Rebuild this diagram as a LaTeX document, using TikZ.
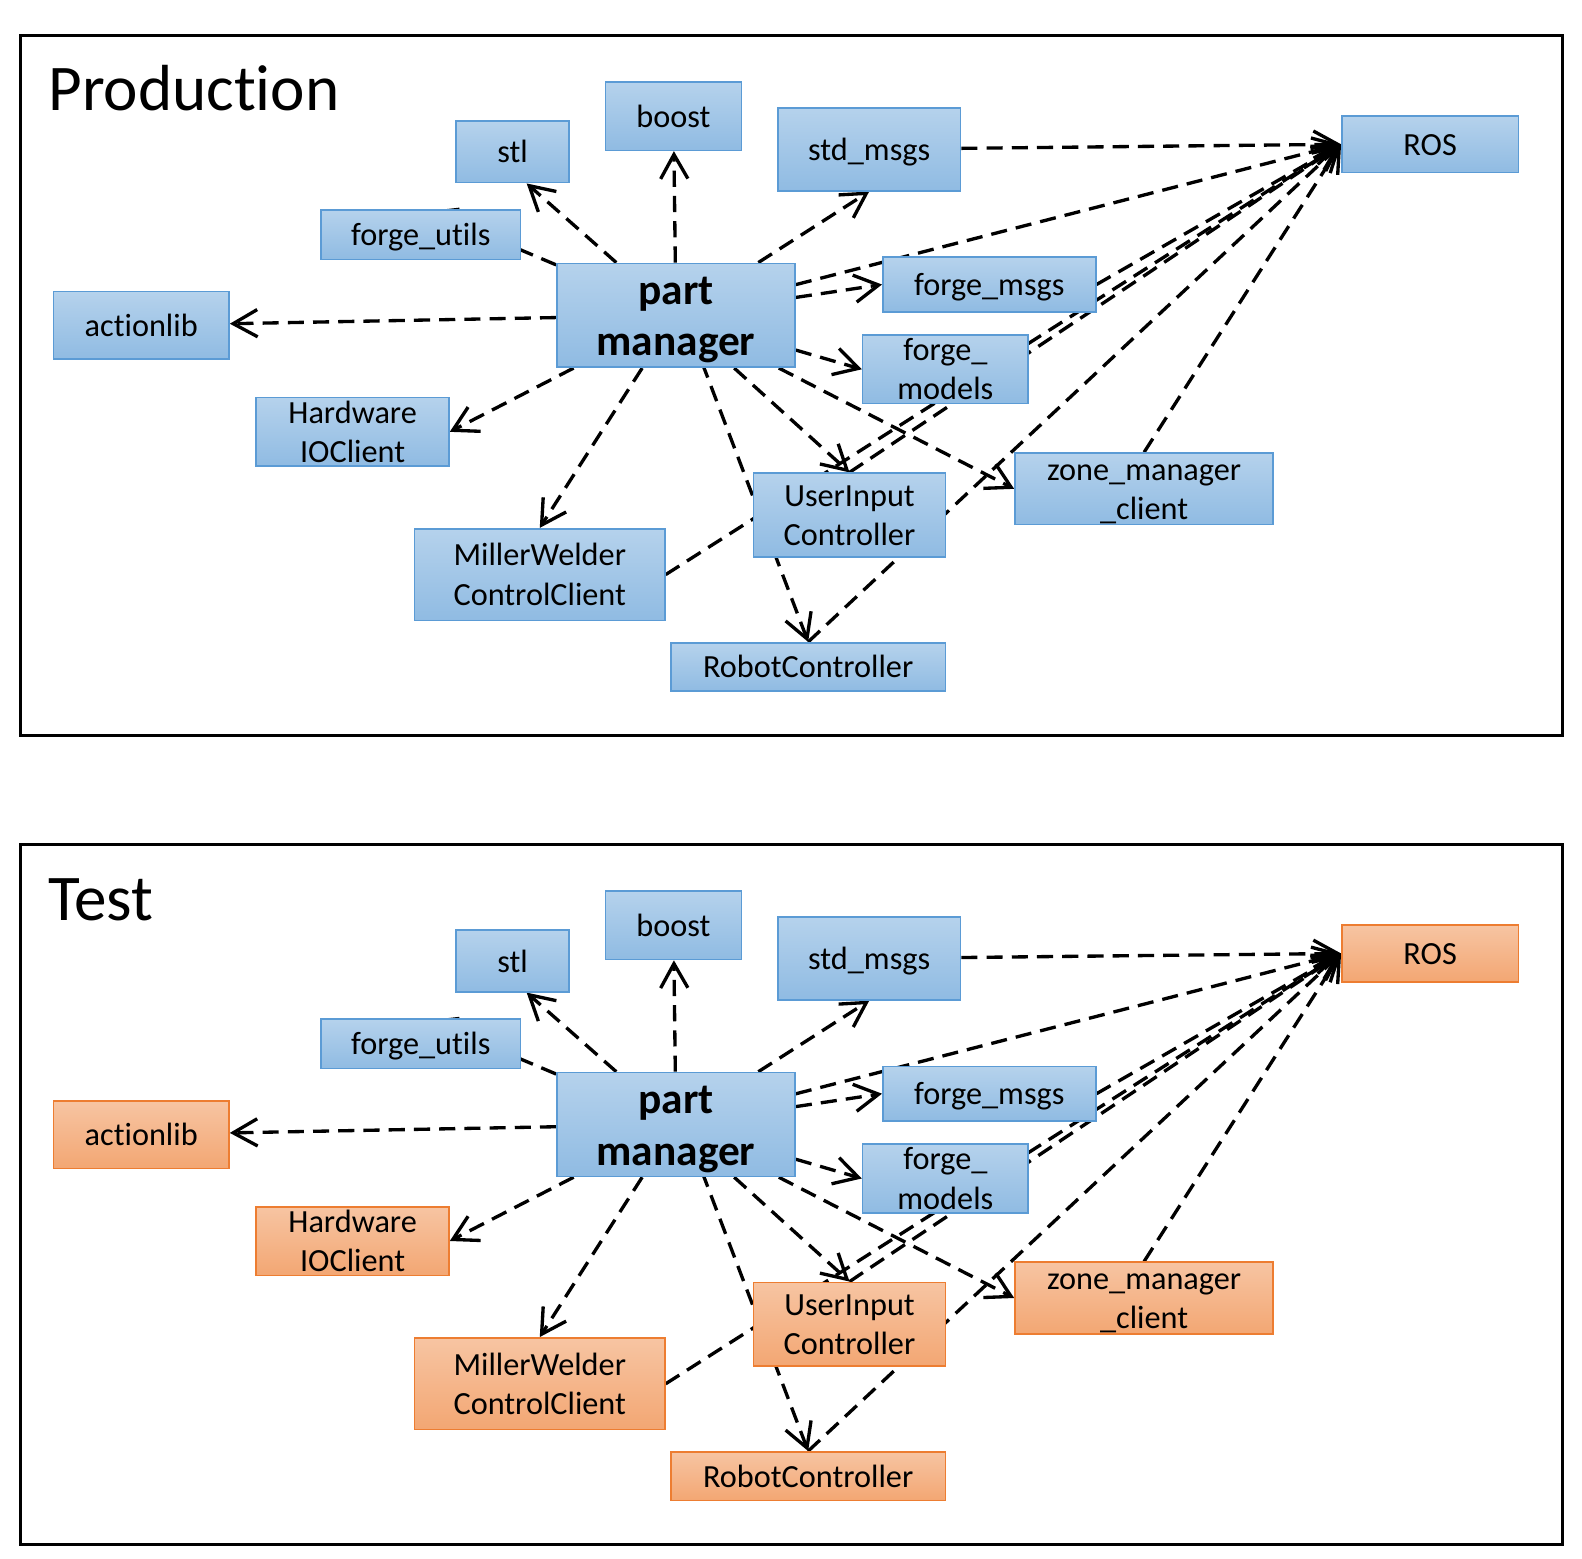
\documentclass[tikz,border=0pt]{standalone}
\usepackage{fontspec}
\setmainfont{Carlito}[Ligatures=CommonOff]
\usetikzlibrary{arrows.meta, backgrounds}
\definecolor{BLUE}{HTML}{5B9BD5}
\definecolor{ORANGE}{HTML}{ED7D31}
\newcommand*{\pkgfont}{\fontsize{16}{19.5}\selectfont\lineskiplimit=-10pt}
\newcommand*{\titlefont}{\fontsize{32.3}{38}\selectfont}
\newcommand*{\pmfont}{\fontsize{21.5}{25.5}\selectfont\bfseries\lineskiplimit=-10pt}
\newcommand*{\linestrut}{\rule[-0.269em]{0pt}{1.221em}}

\tikzset{
    pkg/.style={draw=#1, line width=0.8pt, top color=#1!45!white, bottom color=#1!68!white,
        inner xsep=0pt, inner ysep=-5pt, align=center, font=\pkgfont,
        execute at begin node=\linestrut, execute at end node=\linestrut},
    dep/.style={black, line width=1.65pt, dash pattern=on 8pt off 4.5pt,
        -{Straight Barb[length=12pt, width=13.5pt]}},
    frame/.style={black, line width=1.5pt},
}

\begin{document}
\begin{tikzpicture}[x=0.5pt, y=-0.5pt]
    \useasboundingbox (0,0) rectangle (1568,1544.4);
    \foreach \p/\dy/\ttl/\mk in {P/0/Production/BLUE, T/802/Test/ORANGE}{
    \begin{scope}[shift={(0,\dy)}]
        % Frame and title
        \draw[frame] (20,35) rectangle (1549,729);
        \node[anchor=base west, inner sep=0pt, font=\titlefont] (\p-title) at (47.5,110) {\ttl};
        % Packages
        \node[pkg=BLUE, minimum width=67.5pt, minimum height=34pt] (\p-boost) at (667.5,115) {boost};
        \node[pkg=BLUE, minimum width=56pt, minimum height=30.5pt] (\p-stl) at (508,150.5) {stl};
        \node[pkg=BLUE, minimum width=90.5pt, minimum height=41pt] (\p-stdmsgs) at (861.5,148) {std\_msgs};
        \node[pkg=\mk, minimum width=87.5pt, minimum height=28pt] (\p-ros) at (1417.5,143) {ROS};
        \node[pkg=BLUE, minimum width=99pt, minimum height=24.5pt] (\p-futils) at (417,232.5) {forge\_utils};
        \node[pkg=BLUE, minimum width=118pt, minimum height=51.5pt, font=\pmfont] (\p-pm) at (670,312.5) {\linestrut part\\manager};
        \node[pkg=\mk, minimum width=87pt, minimum height=33.5pt] (\p-alib) at (140,322.5) {actionlib};
        \node[pkg=BLUE, minimum width=105.5pt, minimum height=27pt] (\p-fmsgs) at (980.5,282) {forge\_msgs};
        \node[pkg=BLUE, minimum width=82pt, minimum height=34pt] (\p-fmodels) at (937,366) {\linestrut forge\_\\models};
        \node[pkg=\mk, minimum width=95.5pt, minimum height=34pt] (\p-hwio) at (349.5,428) {\linestrut Hardware\\IOClient};
        \node[pkg=\mk, minimum width=128pt, minimum height=35.5pt] (\p-zone) at (1134,484.5) {\linestrut zone\_manager\\\_client};
        \node[pkg=\mk, minimum width=95pt, minimum height=41.5pt] (\p-uic) at (842,510.5) {\linestrut UserInput\\Controller};
        \node[pkg=\mk, minimum width=124pt, minimum height=45.5pt] (\p-miller) at (535,569.5) {\linestrut MillerWelder\\ControlClient};
        \node[pkg=\mk, minimum width=136pt, minimum height=24pt] (\p-robot) at (801,661) {RobotController};
        % Dependencies
        \begin{scope}[on background layer]
            \draw[dep] (\p-pm) -- ([xshift=7pt]\p-stl.south);
            \draw[dep] (\p-pm) -- (\p-boost);
            \draw[dep] (\p-pm) -- (\p-stdmsgs.south);
            \draw[dep] (\p-pm) -- ([xshift=4pt, yshift=-1pt]\p-futils.north);
            \draw[dep] (\p-pm) -- (\p-alib);
            \draw[dep] (\p-pm) -- (\p-hwio.east);
            \draw[dep] (\p-pm) -- (\p-miller.north);
            \draw[dep] ([xshift=4pt]\p-pm.center) -- (\p-robot.north);
            \draw[dep] (\p-pm) -- (\p-uic.north);
            \draw[dep] (\p-pm) -- (\p-fmodels.west);
            \draw[dep] (\p-pm) -- (\p-fmsgs.west);
            \draw[dep] (\p-pm) -- (\p-zone.west);
            \draw[dep] (\p-pm) -- (\p-ros.west);
            \draw[dep] (\p-stdmsgs) -- (\p-ros.west);
            \draw[dep] (\p-fmsgs.east) -- (\p-ros.west);
            \draw[dep] (\p-uic.north) -- (\p-ros.west);
            \draw[dep] (\p-miller.east) -- (\p-ros.west);
            \draw[dep] (\p-robot.north) -- (\p-ros.west);
            \draw[dep] (\p-zone.north) -- (\p-ros.west);
        \end{scope}
    \end{scope}
    }
\end{tikzpicture}
\end{document}
